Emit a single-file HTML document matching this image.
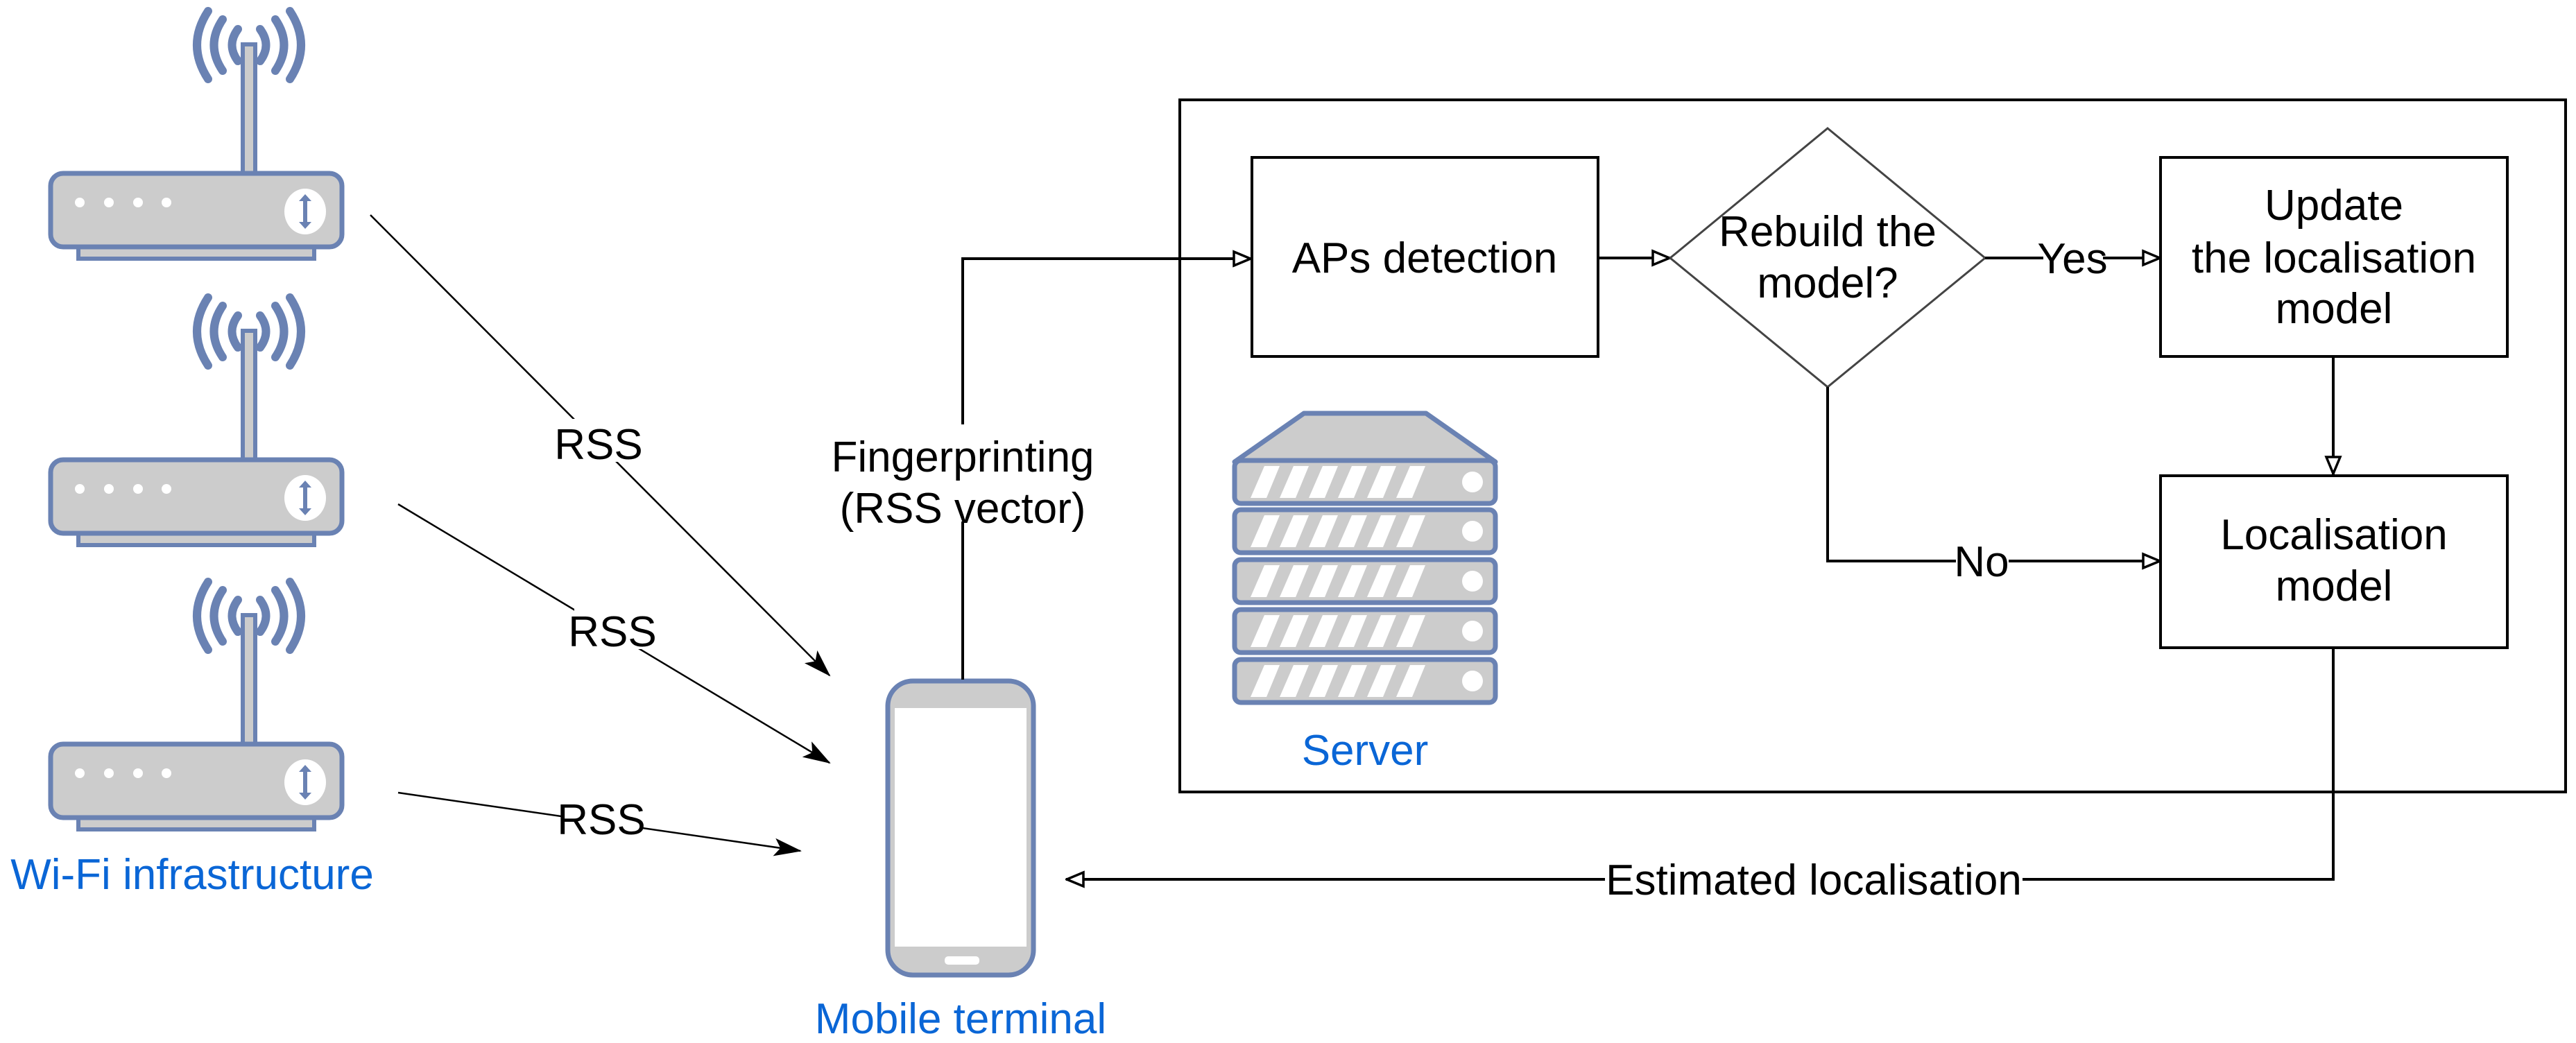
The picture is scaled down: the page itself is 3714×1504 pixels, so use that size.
<!DOCTYPE html>
<html><head><meta charset="utf-8"><style>
html,body{margin:0;padding:0;background:#fff;}
svg{display:block;}
text{font-family:"Liberation Sans",Arial,sans-serif;font-size:62px;}
</style></head><body>
<svg width="3714" height="1504" viewBox="0 0 3714 1504" xmlns="http://www.w3.org/2000/svg">
<defs>
<marker id="open" viewBox="0 0 28 28" refX="27" refY="14" markerWidth="28" markerHeight="28" markerUnits="userSpaceOnUse" orient="auto">
<path d="M2,4 L26,14 L2,24 Z" fill="#fff" stroke="#000" stroke-width="3.5"/>
</marker>
<marker id="fill" viewBox="0 0 40 30" refX="38" refY="15" markerWidth="40" markerHeight="30" markerUnits="userSpaceOnUse" orient="auto">
<path d="M0,2 L40,15 L0,28 L9,15 Z" fill="#000"/>
</marker>
<g id="router">
<g fill="none" stroke="#6a82b3" stroke-width="12" stroke-linecap="round">
<path d="M343 42 Q 326 65 343 88"/>
<path d="M321 28 Q 296 65 321 102"/>
<path d="M300 16 Q 268 65 300 114"/>
<path d="M375 42 Q 392 65 375 88"/>
<path d="M397 28 Q 422 65 397 102"/>
<path d="M418 16 Q 450 65 418 114"/>
</g>
<rect x="350" y="64" width="18" height="186" fill="#ccc" stroke="#6a82b3" stroke-width="6"/>
<rect x="113" y="356" width="340" height="17" fill="#ccc" stroke="#6a82b3" stroke-width="6"/>
<rect x="73" y="250" width="420" height="106" rx="18" fill="#ccc" stroke="#6a82b3" stroke-width="7"/>
<circle cx="115" cy="292" r="7" fill="#fff"/><circle cx="157" cy="292" r="7" fill="#fff"/>
<circle cx="199" cy="292" r="7" fill="#fff"/><circle cx="240" cy="292" r="7" fill="#fff"/>
<ellipse cx="440" cy="305" rx="30" ry="33" fill="#fff"/>
<line x1="440" y1="283" x2="440" y2="327" stroke="#6a82b3" stroke-width="6"/>
<path d="M431 290 L440 280 L449 290 Z M431 320 L440 330 L449 320 Z" fill="#6a82b3"/>
</g>
<g id="srow">
<rect x="1780" y="0" width="376" height="62" rx="9" fill="#ccc" stroke="#6a82b3" stroke-width="7"/>
<g fill="#fff">
<polygon points="1823,8 1845,8 1826,54 1803,54"/>
<polygon points="1865,8 1887,8 1868,54 1845,54"/>
<polygon points="1907,8 1929,8 1910,54 1887,54"/>
<polygon points="1949,8 1971,8 1952,54 1929,54"/>
<polygon points="1991,8 2013,8 1994,54 1971,54"/>
<polygon points="2033,8 2055,8 2036,54 2013,54"/>
</g>
<circle cx="2123" cy="31" r="15" fill="#fff"/>
</g>
</defs>

<use href="#router"/>
<use href="#router" y="413"/>
<use href="#router" y="823"/>
<text x="277" y="1282" text-anchor="middle" fill="#0a66d6">Wi-Fi infrastructure</text>

<g stroke="#000" stroke-width="2.5" fill="none">
<line x1="534" y1="310" x2="1196" y2="974" marker-end="url(#fill)"/>
<line x1="574" y1="727" x2="1196" y2="1100" marker-end="url(#fill)"/>
<line x1="574" y1="1143" x2="1154" y2="1227" marker-end="url(#fill)"/>
</g>
<g fill="#fff">
<rect x="808" y="604" width="112" height="62"/>
<rect x="828" y="874" width="112" height="62"/>
<rect x="812" y="1146" width="112" height="62"/>
</g>
<g text-anchor="middle" fill="#000">
<text x="863" y="662">RSS</text>
<text x="883" y="932">RSS</text>
<text x="867" y="1203">RSS</text>
</g>

<rect x="1280" y="982" width="210" height="424" rx="36" fill="#ccc" stroke="#6a82b3" stroke-width="7"/>
<rect x="1290" y="1021" width="190" height="344" fill="#fff"/>
<rect x="1362" y="1379" width="50" height="12" rx="5" fill="#fff"/>
<text x="1385" y="1490" text-anchor="middle" fill="#0a66d6">Mobile terminal</text>

<polyline points="1388,980 1388,373 1804,373" fill="none" stroke="#000" stroke-width="4" marker-end="url(#open)"/>
<rect x="1210" y="612" width="360" height="140" fill="#fff"/>
<text x="1388" y="680" text-anchor="middle">Fingerprinting</text>
<text x="1388" y="754" text-anchor="middle">(RSS vector)</text>

<rect x="1701" y="144" width="1998" height="998" fill="none" stroke="#000" stroke-width="4"/>

<polygon points="1880,596 2056,596 2156,666 1780,666" fill="#ccc" stroke="#6a82b3" stroke-width="7" stroke-linejoin="round"/>
<use href="#srow" y="664"/>
<use href="#srow" y="735"/>
<use href="#srow" y="807"/>
<use href="#srow" y="879"/>
<use href="#srow" y="951"/>
<text x="1968" y="1103" text-anchor="middle" fill="#0a66d6">Server</text>

<rect x="1805" y="227" width="499" height="287" fill="#fff" stroke="#000" stroke-width="4"/>
<text x="2054" y="393" text-anchor="middle">APs detection</text>

<line x1="2304" y1="372" x2="2408" y2="372" stroke="#000" stroke-width="4" marker-end="url(#open)"/>
<polygon points="2635,185 2862,372 2635,558 2408,372" fill="#fff" stroke="#444" stroke-width="3"/>
<text x="2635" y="355" text-anchor="middle">Rebuild the</text>
<text x="2635" y="429" text-anchor="middle">model?</text>

<line x1="2862" y1="372" x2="3115" y2="372" stroke="#000" stroke-width="4" marker-end="url(#open)"/>
<rect x="2946" y="340" width="86" height="62" fill="#fff"/>
<text x="2988" y="394" text-anchor="middle">Yes</text>

<rect x="3115" y="227" width="500" height="287" fill="#fff" stroke="#000" stroke-width="4"/>
<text x="3365" y="317" text-anchor="middle">Update</text>
<text x="3365" y="393" text-anchor="middle">the localisation</text>
<text x="3365" y="466" text-anchor="middle">model</text>

<line x1="3364" y1="514" x2="3364" y2="684" stroke="#000" stroke-width="4" marker-end="url(#open)"/>

<polyline points="2635,558 2635,809 3115,809" fill="none" stroke="#000" stroke-width="4" marker-end="url(#open)"/>
<rect x="2820" y="778" width="76" height="62" fill="#fff"/>
<text x="2857" y="831" text-anchor="middle">No</text>

<rect x="3115" y="686" width="500" height="248" fill="#fff" stroke="#000" stroke-width="4"/>
<text x="3365" y="792" text-anchor="middle">Localisation</text>
<text x="3365" y="866" text-anchor="middle">model</text>

<polyline points="3364,934 3364,1268 1537,1268" fill="none" stroke="#000" stroke-width="4" marker-end="url(#open)"/>
<rect x="2314" y="1236" width="602" height="64" fill="#fff"/>
<text x="2615" y="1290" text-anchor="middle">Estimated localisation</text>
</svg>
</body></html>
